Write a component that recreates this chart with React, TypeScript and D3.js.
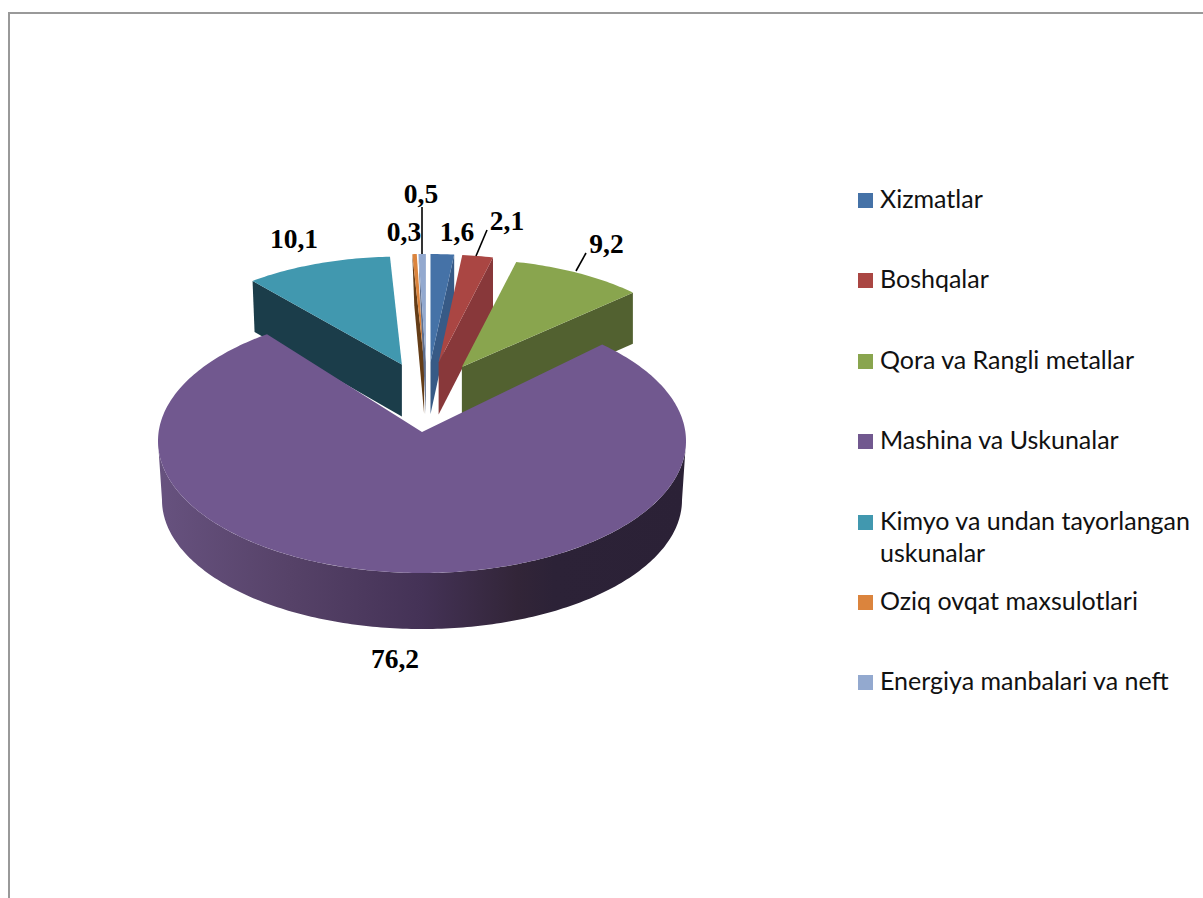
import React from "react";
import * as d3 from "d3";

const categories = ["Xizmatlar", "Boshqalar", "Qora va Rangli metallar", "Mashina va Uskunalar", "Kimyo va undan tayorlangan uskunalar", "Oziq ovqat maxsulotlari", "Energiya manbalari va neft"];
const legendLines = [["Xizmatlar"], ["Boshqalar"], ["Qora va Rangli metallar"], ["Mashina va Uskunalar"], ["Kimyo va undan tayorlangan", "uskunalar"], ["Oziq ovqat maxsulotlari"], ["Energiya manbalari va neft"]];
const values = [1.6, 2.1, 9.2, 76.2, 10.1, 0.3, 0.5];
const valueLabels = ["1,6", "2,1", "9,2", "76,2", "10,1", "0,3", "0,5"];
const topColors = ["#4572a7", "#aa4643", "#89a54e", "#71588f", "#4198af", "#db843d", "#93a9cf"];
const wallColors = ["#375a86", "#88383a", "#526130", "#2b2136", "#1b3d4a", "#643d18", "#5f6e8c"];
const labelAnchors: [number, number][] = [[457, 241], [507, 230], [606.5, 253], [395, 668], [294, 248], [404, 241], [421, 203]];
const leaders: [number, number, number, number][] = [[422, 207, 422, 254], [487, 230, 476, 256], [586, 253, 576, 271]];

const pieGen = d3.pie<number>().sort(null).value((d) => d).startAngle(0).endAngle(2 * Math.PI);
const arcs = pieGen(values);
const MAIN = 3;
const DEPTH = 52;
const line = d3.line<[number, number]>();

function sampled(a0: number, a1: number, f: (t: number) => [number, number]) {
  const n = Math.max(2, Math.ceil(Math.abs(a1 - a0) * 60));
  return d3.range(n + 1).map((i) => f(a0 + ((a1 - a0) * i) / n));
}

function Slice({ i }: { i: number }) {
  const a = arcs[i];
  const mid = (a.startAngle + a.endAngle) / 2;
  const ax = 427 + 70 * Math.sin(mid);
  const ay = 400 - 38 * Math.cos(mid);
  const pt = (t: number): [number, number] => [ax + 236 * Math.sin(t), ay - 108 * Math.cos(t)];
  const edge = mid < Math.PI ? a.endAngle : a.startAngle;
  const e = pt(edge);
  const wall: [number, number][] = [[ax, ay], e, [e[0] + (mid < Math.PI ? 0 : 2), e[1] + DEPTH - 1], [ax, ay + DEPTH]];
  const top: [number, number][] = [[ax, ay], ...sampled(a.startAngle, a.endAngle, pt)];
  return (
    <g>
      <path d={line(wall) + "Z"} fill={wallColors[i]} />
      <path d={line(top) + "Z"} fill={topColors[i]} />
    </g>
  );
}

function MainSlice() {
  const a = arcs[MAIN];
  // perspective: angles are foreshortened toward the front-back axis on the large slice
  const warp = (t: number) => Math.atan2(Math.sin(t) * 0.888, Math.cos(t));
  const pt = (t: number): [number, number] => [422 + 264 * Math.sin(t), 441 - 132 * Math.cos(t)];
  const t0 = warp(a.startAngle);
  const t1 = warp(a.endAngle) + 2 * Math.PI;
  const top: [number, number][] = [[422, 432], ...sampled(t0, t1, pt)];
  const upper = sampled(Math.PI / 2, (3 * Math.PI) / 2, pt);
  const lower = sampled((3 * Math.PI) / 2, Math.PI / 2, (t) => [422 + 260 * Math.sin(t), 500 - 129 * Math.cos(t)]);
  return (
    <g>
      <path d={line([...upper, ...lower]) + "Z"} fill="url(#wallGrad)" />
      <path d={line(top) + "Z"} fill={topColors[MAIN]} />
    </g>
  );
}

const drawOrder = [4, 5, 6, 0, 1, 2];

export default function App() {
  return (
    <svg width={1203} height={898} style={{ position: "absolute", left: 0, top: 0, background: "#fff" }}>
      <defs>
        <linearGradient id="wallGrad" gradientUnits="userSpaceOnUse" x1={158} x2={686} y1={0} y2={0}>
          <stop offset="0" stopColor="#67527f" />
          <stop offset="0.25" stopColor="#564268" />
          <stop offset="0.5" stopColor="#443256" />
          <stop offset="0.68" stopColor="#322538" />
          <stop offset="0.75" stopColor="#2c2237" />
          <stop offset="1" stopColor="#2b2136" />
        </linearGradient>
      </defs>
      <path d="M9,898V13H1203" fill="none" stroke="#999" strokeWidth={2} />
      {drawOrder.map((i) => <Slice key={i} i={i} />)}
      <MainSlice />
      {leaders.map((l, i) => <line key={i} x1={l[0]} y1={l[1]} x2={l[2]} y2={l[3]} stroke="#000" strokeWidth={1.6} />)}
      {valueLabels.map((t, i) => (
        <text key={i} x={labelAnchors[i][0]} y={labelAnchors[i][1]} textAnchor="middle" fontFamily="'Liberation Serif'" fontWeight="bold" fontSize={27.5} fill="#000">{t}</text>
      ))}
      {categories.map((c, i) => {
        const y = 193 + Math.round(i * 80.4);
        return (
          <g key={c}>
            <rect x={858} y={y} width={15} height={15} fill={topColors[i]} />
            {legendLines[i].map((s, j) => (
              <text key={j} x={880} y={y + 15 + j * 32} fontFamily="Lato" fontSize={25} fill="#111">{s}</text>
            ))}
          </g>
        );
      })}
    </svg>
  );
}
